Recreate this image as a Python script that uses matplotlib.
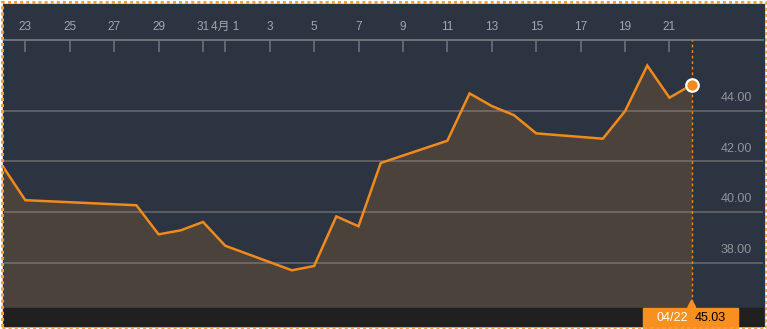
import matplotlib.pyplot as plt
import matplotlib.dates as mdates
import pandas as pd
from matplotlib.patches import Rectangle, Polygon

plt.rcParams['font.family'] = ['Liberation Sans', 'Noto Sans CJK JP', 'DejaVu Sans']

# data
dates = ['2019-03-22', '2019-03-23', '2019-03-28', '2019-03-29', '2019-03-30',
         '2019-03-31', '2019-04-01', '2019-04-04', '2019-04-05', '2019-04-06',
         '2019-04-07', '2019-04-08', '2019-04-11', '2019-04-12', '2019-04-13',
         '2019-04-14', '2019-04-15', '2019-04-18', '2019-04-19', '2019-04-20',
         '2019-04-21', '2019-04-22']
prices = [41.79, 40.47, 40.27, 39.12, 39.28, 39.61, 38.67, 37.70, 37.87, 39.83,
          39.44, 41.94, 42.82, 44.69, 44.19, 43.83, 43.11, 42.90, 43.99, 45.79,
          44.52, 45.03]

tick_dates = ['2019-03-23', '2019-03-25', '2019-03-27', '2019-03-29', '2019-03-31',
              '2019-04-01', '2019-04-03', '2019-04-05', '2019-04-07', '2019-04-09',
              '2019-04-11', '2019-04-13', '2019-04-15', '2019-04-17', '2019-04-19',
              '2019-04-21']
tick_labels = ['23', '25', '27', '29', '31', '4月 1', '3', '5', '7', '9',
               '11', '13', '15', '17', '19', '21']
y_ticks = [38, 40, 42, 44]

# colours
bg = '#2b3440'
fill_c = '#4b423c'
orange = '#f08a1c'

W, H = 767, 329
x = mdates.date2num(pd.to_datetime(dates))
xt = mdates.date2num(pd.to_datetime(tick_dates))

fig = plt.figure(figsize=(W / 100, H / 100), dpi=100, facecolor='white')

# dark panel behind everything
fig.patches.append(Rectangle((3.5 / W, 3 / H), 760 / W, 322.5 / H,
                             transform=fig.transFigure, color=bg, zorder=-5))

ax = fig.add_axes([4 / W, (H - 307.5) / H, 759 / W, 267.5 / H])
ax.set_facecolor(bg)

ymin, ymax = 36.23, 46.80
ax.fill_between(x, prices, ymin, color=fill_c, lw=0, zorder=1)
ax.plot(x, prices, color=orange, lw=1.8, zorder=3, solid_joinstyle='miter')
ax.plot(x[-1], prices[-1], 'o', ms=9, mfc=orange, mec='white', mew=1.6, zorder=5)
ax.axvline(x[-1], color=orange, lw=1, ls=(0, (2, 2)), zorder=4)

ax.set_xlim(x[0] + 0.04, x[0] + 34.21)
ax.set_ylim(ymin, ymax)

ax.set_yticks(y_ticks)
ax.yaxis.grid(True, color='#a09a94', alpha=0.5, lw=1.2, zorder=2)
ax.set_axisbelow(False)
ax.tick_params(axis='y', length=0, labelleft=False)
for v in y_ticks:
    ax.text(0.985, v + 0.5, f'{v:.2f}', transform=ax.get_yaxis_transform(),
            ha='right', va='center', fontsize=9, color='#8f959b', zorder=6)

ax.xaxis.tick_top()
ax.set_xticks(xt)
ax.set_xticklabels(tick_labels)
ax.tick_params(axis='x', direction='in', length=8.5, width=1.2, color='#6c7176',
               labelcolor='#a3a7ab', labelsize=8.5, pad=5)
for s in ['left', 'right', 'bottom']:
    ax.spines[s].set_visible(False)
ax.spines['top'].set_color('#7b7f83')
ax.spines['top'].set_linewidth(1.2)

# bottom strip and last-value label
fig.patches.append(Rectangle((4 / W, 3.5 / H), 759 / W, 18 / H,
                             transform=fig.transFigure, color='#202020', zorder=1))
fig.canvas.draw()
px = ax.transData.transform((x[-1], prices[-1]))[0]
fig.patches.append(Rectangle(((px - 49) / W, 0), 95 / W, (H - 307.5) / H,
                             transform=fig.transFigure, color='#f7901e', zorder=2))
fig.patches.append(Polygon([((px - 4) / W, (H - 307.5) / H), ((px + 4) / W, (H - 307.5) / H),
                            (px / W, (H - 300) / H)],
                           transform=fig.transFigure, color='#f7901e', zorder=2))
last = pd.to_datetime(dates[-1])
fig.text((px - 19) / W, (H - 318) / H, last.strftime('%m/%d'), color='white',
         fontsize=9, ha='center', va='center', zorder=3)
fig.text((px + 19) / W, (H - 318) / H, f'{prices[-1]:.2f}', color='black',
         fontsize=9, ha='center', va='center', zorder=3)

# dotted orange frame
fig.patches.append(Rectangle((1.5 / W, 1.5 / H), (W - 3) / W, (H - 3) / H,
                             transform=fig.transFigure, fill=False, ec='#f7a030',
                             lw=2.2, ls=(0, (1, 1)), zorder=10))

fig.savefig('out.png', dpi=100, facecolor='white')
